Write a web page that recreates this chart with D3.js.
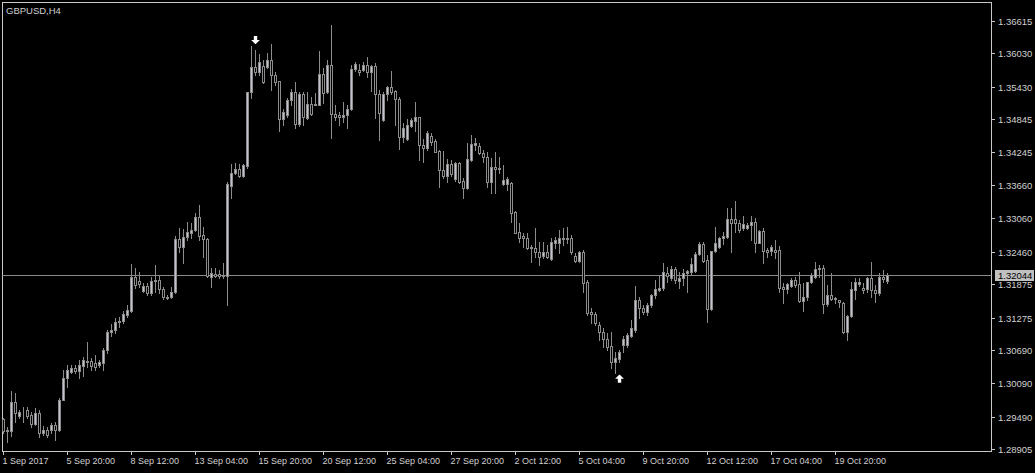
<!DOCTYPE html>
<html><head><meta charset="utf-8">
<script src="https://cdn.jsdelivr.net/npm/d3@7"></script>
<style>html,body{margin:0;padding:0;background:#000;overflow:hidden}svg{display:block}</style>
</head><body>
<svg id="c" width="1035" height="473"></svg>
<script>
const symbolTitle = "GBPUSD,H4";
const open = [1.2945,1.2924,1.2924,1.2975,1.2950,1.2957,1.2961,1.2952,1.2936,1.2955,
1.2919,1.2925,1.2925,1.2934,1.2926,1.2980,1.3018,1.3030,1.3037,1.3032,
1.3040,1.3049,1.3050,1.3045,1.3042,1.3045,1.3069,1.3101,1.3105,1.3119,
1.3121,1.3132,1.3139,1.3201,1.3193,1.3176,1.3184,1.3172,1.3195,1.3195,
1.3178,1.3165,1.3164,1.3174,1.3269,1.3255,1.3273,1.3280,1.3285,1.3308,
1.3276,1.3269,1.3201,1.3206,1.3206,1.3202,1.3203,1.3365,1.3387,1.3395,
1.3383,1.3401,1.3533,1.3578,1.3570,1.3580,1.3579,1.3591,1.3563,1.3553,
1.3484,1.3492,1.3519,1.3533,1.3475,1.3529,1.3487,1.3511,1.3510,1.3510,
1.3565,1.3533,1.3582,1.3493,1.3492,1.3489,1.3492,1.3502,1.3574,1.3573,
1.3573,1.3582,1.3569,1.3580,1.3529,1.3483,1.3529,1.3542,1.3535,1.3520,
1.3453,1.3448,1.3472,1.3481,1.3488,1.3438,1.3432,1.3454,1.3445,1.3427,
1.3393,1.3383,1.3404,1.3376,1.3406,1.3373,1.3360,1.3411,1.3438,1.3436,
1.3424,1.3416,1.3372,1.3398,1.3396,1.3368,1.3368,1.3370,1.3317,1.3282,
1.3274,1.3270,1.3254,1.3252,1.3246,1.3238,1.3246,1.3232,1.3261,1.3261,
1.3269,1.3269,1.3271,1.3238,1.3230,1.3245,1.3192,1.3137,1.3134,1.3114,
1.3102,1.3089,1.3076,1.3048,1.3053,1.3078,1.3078,1.3095,1.3105,1.3159,
1.3144,1.3137,1.3150,1.3168,1.3177,1.3180,1.3208,1.3198,1.3214,1.3194,
1.3198,1.3208,1.3210,1.3212,1.3242,1.3260,1.3231,1.3142,1.3247,1.3255,
1.3270,1.3273,1.3304,1.3304,1.3297,1.3288,1.3288,1.3294,1.3300,1.3262,
1.3284,1.3249,1.3248,1.3249,1.3249,1.3182,1.3178,1.3184,1.3195,1.3188,
1.3158,1.3164,1.3191,1.3200,1.3216,1.3216,1.3152,1.3168,1.3162,1.3159,
1.3154,1.3102,1.3130,1.3177,1.3187,1.3180,1.3178,1.3198,1.3177,1.3172,
1.3200,1.3194];
const high = [1.2947,1.2931,1.2995,1.2991,1.2961,1.2967,1.2966,1.2958,1.2964,1.2961,
1.2932,1.2931,1.2938,1.2940,1.2983,1.3034,1.3043,1.3043,1.3043,1.3051,
1.3056,1.3084,1.3054,1.3060,1.3052,1.3072,1.3106,1.3116,1.3127,1.3128,
1.3139,1.3150,1.3224,1.3216,1.3210,1.3189,1.3189,1.3201,1.3222,1.3204,
1.3183,1.3168,1.3183,1.3274,1.3288,1.3286,1.3300,1.3297,1.3316,1.3330,
1.3291,1.3270,1.3216,1.3216,1.3213,1.3225,1.3372,1.3404,1.3405,1.3404,
1.3404,1.3533,1.3616,1.3609,1.3601,1.3590,1.3603,1.3619,1.3570,1.3553,
1.3502,1.3523,1.3539,1.3552,1.3533,1.3533,1.3533,1.3525,1.3531,1.3607,
1.3577,1.3591,1.3654,1.3509,1.3498,1.3515,1.3509,1.3582,1.3588,1.3583,
1.3588,1.3597,1.3582,1.3586,1.3537,1.3533,1.3544,1.3571,1.3537,1.3525,
1.3477,1.3485,1.3486,1.3515,1.3489,1.3449,1.3463,1.3459,1.3449,1.3429,
1.3428,1.3412,1.3411,1.3408,1.3408,1.3378,1.3442,1.3456,1.3450,1.3441,
1.3429,1.3426,1.3414,1.3426,1.3417,1.3402,1.3381,1.3372,1.3320,1.3297,
1.3279,1.3279,1.3258,1.3288,1.3264,1.3264,1.3258,1.3270,1.3273,1.3285,
1.3288,1.3291,1.3276,1.3244,1.3247,1.3249,1.3195,1.3144,1.3138,1.3120,
1.3108,1.3099,1.3102,1.3066,1.3069,1.3095,1.3099,1.3123,1.3185,1.3165,
1.3150,1.3153,1.3169,1.3195,1.3204,1.3225,1.3218,1.3220,1.3218,1.3210,
1.3214,1.3213,1.3234,1.3246,1.3264,1.3264,1.3240,1.3247,1.3290,1.3273,
1.3282,1.3324,1.3324,1.3337,1.3303,1.3310,1.3297,1.3310,1.3306,1.3285,
1.3288,1.3252,1.3258,1.3267,1.3256,1.3189,1.3190,1.3198,1.3200,1.3209,
1.3189,1.3192,1.3207,1.3228,1.3222,1.3222,1.3186,1.3208,1.3165,1.3159,
1.3156,1.3132,1.3191,1.3199,1.3198,1.3189,1.3200,1.3228,1.3186,1.3207,
1.3213,1.3207];
const low = [1.2920,1.2904,1.2915,1.2940,1.2946,1.2940,1.2946,1.2931,1.2934,1.2913,
1.2916,1.2913,1.2919,1.2907,1.2923,1.2979,1.3002,1.3027,1.3027,1.3018,
1.3022,1.3039,1.3034,1.3033,1.3039,1.3033,1.3064,1.3094,1.3100,1.3110,
1.3118,1.3129,1.3138,1.3180,1.3183,1.3174,1.3168,1.3168,1.3174,1.3172,
1.3160,1.3160,1.3162,1.3171,1.3246,1.3225,1.3267,1.3270,1.3284,1.3267,
1.3237,1.3201,1.3183,1.3201,1.3198,1.3198,1.3150,1.3343,1.3385,1.3381,
1.3381,1.3396,1.3523,1.3563,1.3563,1.3549,1.3576,1.3537,1.3546,1.3463,
1.3474,1.3489,1.3510,1.3468,1.3472,1.3474,1.3485,1.3492,1.3509,1.3509,
1.3513,1.3531,1.3451,1.3483,1.3474,1.3480,1.3469,1.3501,1.3571,1.3564,
1.3571,1.3561,1.3535,1.3487,1.3447,1.3481,1.3519,1.3529,1.3474,1.3430,
1.3444,1.3447,1.3471,1.3463,1.3411,1.3408,1.3429,1.3437,1.3425,1.3363,
1.3378,1.3372,1.3383,1.3374,1.3370,1.3342,1.3358,1.3410,1.3429,1.3422,
1.3407,1.3362,1.3352,1.3351,1.3387,1.3366,1.3357,1.3300,1.3279,1.3264,
1.3255,1.3250,1.3228,1.3237,1.3222,1.3234,1.3234,1.3231,1.3252,1.3243,
1.3258,1.3261,1.3241,1.3228,1.3228,1.3174,1.3132,1.3117,1.3114,1.3087,
1.3075,1.3069,1.3036,1.3027,1.3048,1.3065,1.3075,1.3093,1.3102,1.3126,
1.3133,1.3132,1.3147,1.3163,1.3175,1.3177,1.3192,1.3195,1.3190,1.3180,
1.3186,1.3174,1.3204,1.3210,1.3240,1.3228,1.3120,1.3141,1.3246,1.3253,
1.3260,1.3270,1.3246,1.3282,1.3282,1.3285,1.3286,1.3267,1.3246,1.3261,
1.3225,1.3237,1.3240,1.3234,1.3174,1.3154,1.3171,1.3182,1.3183,1.3156,
1.3140,1.3159,1.3189,1.3198,1.3201,1.3135,1.3148,1.3159,1.3153,1.3146,
1.3099,1.3088,1.3129,1.3160,1.3184,1.3171,1.3174,1.3165,1.3156,1.3168,
1.3192,1.3189];
const close = [1.2924,1.2926,1.2975,1.2956,1.2958,1.2958,1.2951,1.2936,1.2955,1.2919,
1.2926,1.2916,1.2934,1.2926,1.2980,1.3018,1.3033,1.3036,1.3032,1.3042,
1.3051,1.3048,1.3040,1.3039,1.3047,1.3069,1.3102,1.3105,1.3119,1.3121,
1.3134,1.3141,1.3201,1.3186,1.3187,1.3184,1.3172,1.3194,1.3193,1.3178,
1.3164,1.3162,1.3174,1.3269,1.3255,1.3273,1.3282,1.3285,1.3308,1.3274,
1.3269,1.3202,1.3208,1.3203,1.3202,1.3204,1.3368,1.3387,1.3395,1.3382,
1.3402,1.3533,1.3578,1.3570,1.3587,1.3552,1.3590,1.3563,1.3552,1.3484,
1.3497,1.3519,1.3533,1.3475,1.3529,1.3489,1.3511,1.3493,1.3511,1.3565,
1.3531,1.3582,1.3493,1.3489,1.3488,1.3492,1.3502,1.3574,1.3583,1.3569,
1.3582,1.3569,1.3580,1.3529,1.3496,1.3530,1.3542,1.3534,1.3520,1.3453,
1.3468,1.3474,1.3483,1.3488,1.3437,1.3432,1.3459,1.3444,1.3426,1.3393,
1.3383,1.3404,1.3385,1.3406,1.3372,1.3360,1.3412,1.3440,1.3441,1.3424,
1.3416,1.3372,1.3398,1.3394,1.3394,1.3375,1.3376,1.3316,1.3280,1.3271,
1.3271,1.3252,1.3252,1.3246,1.3237,1.3246,1.3237,1.3264,1.3267,1.3270,
1.3271,1.3271,1.3245,1.3230,1.3245,1.3190,1.3135,1.3133,1.3117,1.3101,
1.3089,1.3075,1.3048,1.3054,1.3066,1.3089,1.3096,1.3108,1.3159,1.3144,
1.3138,1.3150,1.3168,1.3179,1.3181,1.3209,1.3202,1.3214,1.3195,1.3198,
1.3208,1.3211,1.3224,1.3242,1.3260,1.3230,1.3142,1.3247,1.3261,1.3270,
1.3274,1.3304,1.3297,1.3297,1.3285,1.3296,1.3294,1.3300,1.3262,1.3284,
1.3248,1.3246,1.3255,1.3245,1.3180,1.3178,1.3187,1.3195,1.3186,1.3158,
1.3164,1.3191,1.3204,1.3214,1.3214,1.3152,1.3168,1.3160,1.3160,1.3155,
1.3102,1.3130,1.3178,1.3191,1.3191,1.3177,1.3198,1.3177,1.3172,1.3200,
1.3196,1.32044];
const priceTicks = [1.36615,1.36030,1.35430,1.34845,1.34245,1.33660,1.33060,1.32460,1.31875,1.31275,1.30690,1.30090,1.29490,1.28905];
const timeTickIndex = [0,16,32,48,64,80,96,112,128,144,160,176,192,208];
const timeTickLabels = ["1 Sep 2017","5 Sep 20:00","8 Sep 12:00","13 Sep 04:00","15 Sep 20:00","20 Sep 12:00","25 Sep 04:00","27 Sep 20:00","2 Oct 12:00","5 Oct 04:00","9 Oct 20:00","12 Oct 12:00","17 Oct 04:00","19 Oct 20:00"];
const currentPrice = 1.32044;
const arrowIndex = [63, 154];
const arrowPrice = [1.3616, 1.3027];
const arrowDir = ["down", "up"];

const svg = d3.select("#c");
const FONT = "'Liberation Sans', Arial, sans-serif";
const frame = {l: 2.5, t: 2.5, r: 991.5, b: 451.5};
const x = d3.scaleLinear().domain([0, 1]).range([3.5, 7.5]);
const y = d3.scaleLinear().domain([1.28905, 1.36615]).range([449.3, 20.7]);
const py = v => Math.round(y(v)) + 0.5;

const data = open.map((o, i) => ({i, o, h: high[i], l: low[i], c: close[i]}));

// frame
svg.append("rect").attr("x", frame.l).attr("y", frame.t)
  .attr("width", frame.r - frame.l).attr("height", frame.b - frame.t)
  .attr("fill", "none").attr("stroke", "#c8c8c8").attr("stroke-width", 1);

// title
svg.append("text").attr("x", 6).attr("y", 14).attr("fill", "#d0d0d0")
  .attr("font-family", FONT).attr("font-size", 9.5).text(symbolTitle);

// current price line
svg.append("line").attr("x1", frame.l).attr("x2", frame.r)
  .attr("y1", py(currentPrice)).attr("y2", py(currentPrice))
  .attr("stroke", "#8a8a8a").attr("stroke-width", 1);

// candles
const g = svg.append("g");
const cg = g.selectAll("g.c").data(data).join("g");
cg.append("line")
  .attr("x1", d => x(d.i)).attr("x2", d => x(d.i))
  .attr("y1", d => py(d.h) - 0.5).attr("y2", d => py(d.l) + 0.5)
  .attr("stroke", "#8c8c8c").attr("stroke-width", 1);
cg.append("rect")
  .attr("x", d => x(d.i) - 1).attr("width", 2)
  .attr("y", d => Math.min(py(d.o), py(d.c)))
  .attr("height", d => Math.abs(py(d.o) - py(d.c)))
  .attr("fill", d => d.c > d.o ? "#c0c4cc" : "#000")
  .attr("stroke", "#8c8c8c").attr("stroke-width", 1);

// arrows
arrowIndex.forEach((ai, k) => {
  const cx = x(ai);
  const dir = arrowDir[k];
  let tip, s;
  if (dir === "down") { tip = y(arrowPrice[k]) - 1.7; s = -1; }
  else { tip = y(arrowPrice[k]) + 1; s = 1; }
  const pts = [
    [cx, tip],
    [cx + 4.4, tip + s * 4.4],
    [cx + 1.7, tip + s * 4.4],
    [cx + 1.7, tip + s * 8.3],
    [cx - 1.7, tip + s * 8.3],
    [cx - 1.7, tip + s * 4.4],
    [cx - 4.4, tip + s * 4.4]
  ];
  svg.append("path").attr("d", d3.line()(pts) + "Z").attr("fill", "#fff");
});

// right axis
const ra = svg.append("g");
priceTicks.forEach(v => {
  const yy = py(v);
  ra.append("line").attr("x1", frame.r).attr("x2", frame.r + 3.5)
    .attr("y1", yy).attr("y2", yy).attr("stroke", "#c8c8c8");
  ra.append("text").attr("x", 998).attr("y", yy + 3.5)
    .attr("fill", "#d0d0d0").attr("font-family", FONT).attr("font-size", 9.5).text(v.toFixed(5));
});
const cpy = py(currentPrice);
ra.append("rect").attr("x", 995).attr("y", cpy - 5.5).attr("width", 39).attr("height", 11).attr("fill", "#c0c0c0");
ra.append("text").attr("x", 998).attr("y", cpy + 3.5).attr("fill", "#000")
  .attr("font-family", FONT).attr("font-size", 9.5).text(currentPrice.toFixed(5));

// bottom axis
const ba = svg.append("g");
timeTickIndex.forEach((ti, k) => {
  const xx = x(ti);
  ba.append("line").attr("x1", xx).attr("x2", xx).attr("y1", frame.b).attr("y2", frame.b + 3.5)
    .attr("stroke", "#c8c8c8");
  ba.append("text").attr("x", xx - 1).attr("y", 464).attr("fill", "#d0d0d0")
    .attr("font-family", FONT).attr("font-size", 9).text(timeTickLabels[k]);
});
</script>
</body></html>
